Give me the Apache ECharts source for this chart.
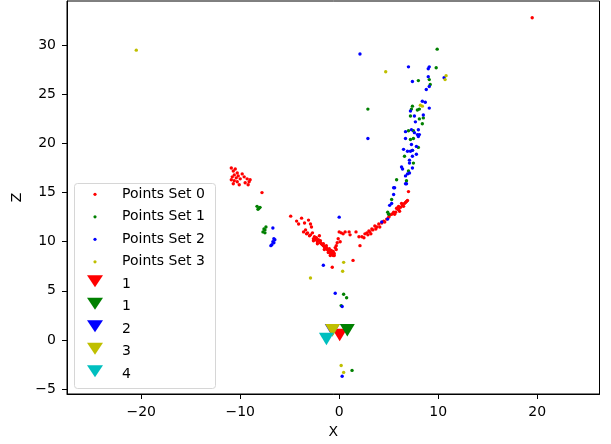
<!DOCTYPE html>
<html>
<head>
<meta charset="utf-8">
<script src="https://cdn.jsdelivr.net/npm/echarts@6.0.0/dist/echarts.min.js"></script>
<style>
  html, body { margin: 0; padding: 0; background: #fff; }
  #main { width: 611px; height: 444px; }
</style>
</head>
<body>
<div id="main"></div>
<script>
// point clouds, [x, z]
const pointsSet0 = [
  [-10.9, 17.5], [-10.7, 17.2], [-10.5, 17.4], [-10.3, 17.0], [-10.6, 16.8], [-10.8, 16.6],
  [-10.4, 16.5], [-10.2, 16.7], [-10.0, 16.4], [-10.6, 16.2], [-10.3, 16.1], [-10.7, 15.9],
  [-10.1, 15.8], [-9.8, 16.9], [-9.6, 16.6], [-9.3, 16.4], [-9.1, 16.1], [-9.2, 15.8],
  [-9.0, 16.3], [-9.5, 16.0], [-10.9, 16.3], [-7.8, 15.0],
  [-4.9, 12.6], [-4.3, 12.1], [-3.8, 12.4], [-4.1, 11.8], [-3.1, 12.2], [-2.9, 11.8],
  [-3.5, 11.9], [-2.8, 11.5], [-3.6, 11.0], [-3.3, 10.8], [-3.0, 10.6], [-2.6, 10.3],
  [-2.0, 10.6], [-2.4, 10.2], [-1.9, 9.9], [-2.2, 10.0], [-1.7, 9.7], [-1.5, 9.5],
  [-1.4, 9.3], [-1.6, 9.6], [-1.2, 9.2], [-1.1, 9.1], [-0.9, 8.9], [-0.8, 8.7],
  [-0.6, 8.6], [-0.5, 8.8], [-0.6, 9.0], [-0.4, 9.4], [-0.3, 9.2], [-0.2, 9.9],
  [-0.1, 10.3], [-1.0, 9.0], [-1.3, 9.4], [-2.3, 10.4], [-2.7, 10.9], [-1.8, 9.8],
  [-0.7, 8.8], [-0.8, 9.1], [-3.4, 11.2], [-3.2, 10.9], [-2.9, 10.7], [-2.5, 10.5],
  [-2.1, 10.2], [-1.9, 10.1], [-1.6, 9.8], [-1.3, 9.6], [-1.0, 9.3], [-0.9, 8.6],
  [-0.5, 8.6], [-2.6, 10.1], [-2.2, 9.8], [-1.5, 9.2], [-1.1, 8.9], [-0.3, 9.6],
  [0.0, 11.0], [0.2, 10.9], [0.6, 11.0], [0.4, 10.8], [1.0, 11.0], [1.1, 10.7],
  [0.1, 10.0], [1.7, 11.0], [2.0, 10.5], [2.1, 9.6], [2.3, 10.5], [2.6, 10.8],
  [3.0, 11.1], [2.8, 10.9], [3.3, 11.3], [3.1, 11.0], [3.6, 11.6], [3.4, 11.2],
  [4.0, 11.8], [3.8, 11.5], [4.5, 12.1], [4.3, 11.9], [5.0, 12.5], [4.8, 12.3],
  [5.3, 12.8], [5.5, 13.0], [5.7, 13.0], [5.9, 13.3], [6.0, 13.3], [6.2, 13.5],
  [6.4, 13.7], [6.6, 13.9], [6.8, 14.1], [6.9, 14.2], [6.5, 13.6], [6.1, 13.1],
  [5.6, 12.8], [2.5, 10.4], [2.9, 10.7], [3.2, 10.8], [3.7, 11.3], [4.1, 11.5],
  [4.6, 12.0], [5.1, 12.7], [5.8, 13.4], [6.3, 13.9], [6.7, 14.0], [6.0, 13.6],
  [1.4, 8.1], [-0.7, 7.4], [7.0, 15.1], [19.5, 32.8]
];
const pointsSet1 = [
  [-8.3, 13.6], [-8.1, 13.4], [-8.2, 13.3], [-8.0, 13.5], [-7.7, 11.0], [-7.5, 11.2],
  [-7.4, 11.5], [-7.6, 11.3], [-7.5, 10.9], [0.45, 4.65], [0.75, 4.3], [0.2, 3.5],
  [1.3, -3.1], [9.9, 29.6], [9.8, 27.7], [8.0, 26.4], [9.1, 26.5], [9.2, 26.0],
  [2.9, 23.5], [7.4, 23.8], [7.3, 23.5], [7.9, 23.4], [8.1, 23.5], [7.2, 22.8],
  [8.1, 22.5], [8.5, 22.6], [8.4, 22.0], [7.0, 21.3], [7.5, 21.3], [7.2, 20.4],
  [7.5, 20.5], [8.0, 19.6], [7.4, 19.3], [6.6, 18.7], [7.5, 18.0], [7.0, 17.2],
  [6.8, 16.2], [5.8, 16.3], [5.3, 14.3], [5.0, 12.8], [4.9, 13.0]
];
const pointsSet2 = [
  [-6.8, 9.7], [-6.6, 9.9], [-6.5, 10.2], [-6.7, 10.0], [-6.6, 10.3], [-6.9, 9.6],
  [-6.7, 11.4], [0.0, 12.5], [-1.6, 7.6], [-0.4, 4.75], [0.3, 3.4], [0.3, -3.7],
  [4.3, 12.0], [4.9, 12.3], [5.1, 13.7], [5.3, 13.9], [5.5, 14.8], [5.5, 15.5],
  [6.8, 15.9], [2.1, 29.1], [7.0, 27.8], [9.1, 27.8], [9.0, 27.6], [9.0, 26.8],
  [7.4, 26.3], [9.1, 25.8], [8.8, 25.5], [10.6, 26.7], [8.4, 24.3], [8.7, 24.2],
  [9.1, 23.6], [7.2, 23.3], [7.6, 22.8], [8.5, 22.9], [7.7, 22.2], [7.3, 21.4],
  [8.0, 21.4], [6.7, 21.2], [7.6, 21.1], [7.9, 20.9], [8.1, 20.9], [8.0, 20.7],
  [6.7, 20.5], [7.3, 19.9], [7.8, 19.7], [6.5, 19.4], [6.9, 19.2], [7.2, 19.2],
  [7.4, 19.3], [7.8, 18.9], [7.4, 18.7], [7.1, 18.3], [7.1, 18.0], [6.3, 17.6],
  [6.4, 17.4], [7.4, 17.5], [7.1, 17.0], [6.9, 16.9], [6.7, 16.7], [6.7, 15.9],
  [5.6, 15.5], [2.9, 20.5]
];
const pointsSet3 = [
  [-20.5, 29.5], [4.7, 27.3], [10.8, 26.9], [10.7, 26.5], [8.2, 23.9], [8.4, 23.8],
  [0.45, 7.9], [0.35, 7.0], [-2.9, 6.3], [0.2, -2.6], [0.45, -3.3]
];

// big triangle markers
const markerNames = ['1', '1', '2', '3', '4'];
const markerPoints = [[0.05, 0.5], [0.82, 1.0], [-0.7, 1.0], [-0.67, 1.0], [-1.29, 0.1]];
const markerColors = ['#ff0000', '#008000', '#0000ff', '#bfbf00', '#00bfbf'];

const setNames = ['Points Set 0', 'Points Set 1', 'Points Set 2', 'Points Set 3'];
const setColors = ['#ff0000', '#008000', '#0000ff', '#bfbf00'];

const xTicks = [-20, -10, 0, 10, 20];
const zTicks = [-5, 0, 5, 10, 15, 20, 25, 30];

const tri = 'path://M0,0L16,0L8,13Z';
const font = 'DejaVu Sans';
const fmt = v => (v < 0 ? '\u2212' + Math.abs(v) : '' + v);

var myChart = echarts.init(document.getElementById('main'));

const series = [];
[pointsSet0, pointsSet1, pointsSet2, pointsSet3].forEach((pts, i) => {
  series.push({
    name: setNames[i],
    type: 'scatter',
    data: pts,
    symbol: 'circle',
    symbolSize: 3.4,
    itemStyle: { color: setColors[i], opacity: 1 },
    silent: true
  });
});
markerPoints.forEach((p, i) => {
  series.push({
    name: 'marker ' + i,
    type: 'scatter',
    data: [p],
    symbol: tri,
    symbolSize: [15, 12.5],
    itemStyle: { color: markerColors[i], opacity: 1 },
    silent: true
  });
});

// legend box drawn by hand (matplotlib style, two marker sizes)
const legendTop = 194.3, legendStep = 22.5;
const legendEls = [{
  type: 'rect',
  z: 10,
  shape: { x: 74.5, y: 183.5, width: 141, height: 205, r: 3 },
  style: { fill: 'rgba(255,255,255,0.8)', stroke: '#d6d6d6', lineWidth: 1 }
}];
setNames.concat(markerNames).forEach((n, i) => {
  const yc = legendTop + legendStep * i;
  if (i < setNames.length) {
    legendEls.push({ type: 'circle', z: 11, shape: { cx: 95, cy: yc, r: 1.6 }, style: { fill: setColors[i] } });
  } else {
    const c = markerColors[i - setNames.length];
    legendEls.push({
      type: 'polygon', z: 11,
      shape: { points: [[87, yc - 9], [103, yc - 9], [95, yc + 3]] },
      style: { fill: c }
    });
  }
  legendEls.push({
    type: 'text', z: 11,
    style: { text: n, x: 122, y: yc, fill: '#000', font: '14px "DejaVu Sans"', verticalAlign: 'middle', align: 'left' }
  });
});

const axisCommon = {
  axisLine: { show: true, onZero: false, lineStyle: { color: '#000', width: 1 } },
  splitLine: { show: false },
  nameTextStyle: { color: '#000', fontSize: 14, fontFamily: font }
};

option = {
  animation: false,
  backgroundColor: '#fff',
  grid: { left: 67, right: 11.5, top: 1, bottom: 48, show: true, borderColor: '#000', borderWidth: 1 },
  xAxis: Object.assign({}, axisCommon, {
    type: 'value',
    min: -27.5,
    max: 26.3,
    name: 'X',
    nameLocation: 'middle',
    nameGap: 31,
    axisTick: { show: true, length: 5, customValues: xTicks, lineStyle: { color: '#000' } },
    axisLabel: { customValues: xTicks, formatter: fmt, margin: 11, color: '#000', fontSize: 14, fontFamily: font }
  }),
  yAxis: Object.assign({}, axisCommon, {
    type: 'value',
    min: -5.5,
    max: 34.5,
    name: 'Z',
    nameLocation: 'middle',
    nameGap: 39,
    axisTick: { show: true, length: 5, customValues: zTicks, lineStyle: { color: '#000' } },
    axisLabel: { customValues: zTicks, formatter: fmt, margin: 11, color: '#000', fontSize: 14, fontFamily: font }
  }),
  graphic: legendEls,
  series
};

option && myChart.setOption(option);
</script>
</body>
</html>
